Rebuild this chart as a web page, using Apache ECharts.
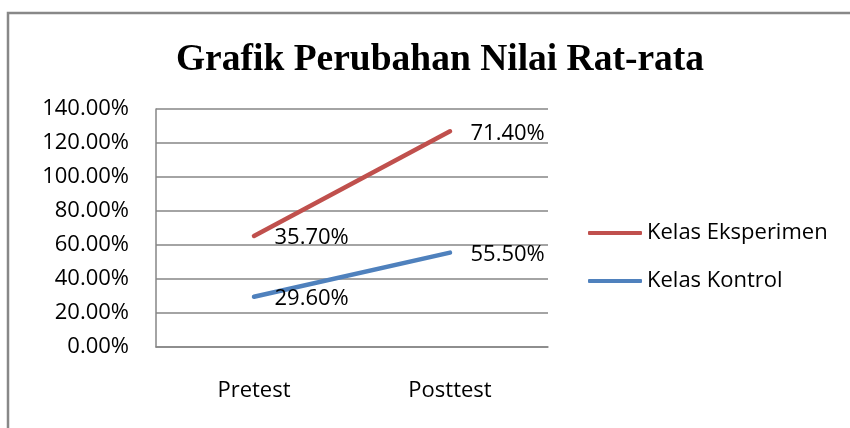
<!DOCTYPE html>
<html>
<head>
<meta charset="utf-8">
<title>Grafik Perubahan Nilai Rat-rata</title>
<script src="https://cdn.jsdelivr.net/npm/echarts@6/dist/echarts.min.js"></script>
<style>
  html, body { margin: 0; padding: 0; background: #fff; }
  #chart { width: 850px; height: 428px; }
</style>
</head>
<body>
<div id="chart"></div>
<script>
// data (stacked line chart, labels show own value)
var categories = ["Pretest", "Posttest"];
var kelasKontrol = [0.296, 0.555];
var kelasEksperimen = [0.357, 0.714];
var yTicks = { min: 0, max: 1.4, interval: 0.2 };

var font = "'Open Sans', 'Noto Sans', sans-serif";
var gray = "#868686";

function pct(v) {
  return (v * 100).toFixed(2) + "%";
}

var myChart = echarts.init(document.getElementById("chart"));

var labelCfg = {
  show: true,
  position: "right",
  distance: 20,
  offset: [0, 2],
  color: "#000",
  fontFamily: font,
  fontSize: 22,
  formatter: function (p) { return pct(p.value); }
};

var option = {
  animation: false,
  // outer chart border
  graphic: [{
    type: "rect",
    shape: { x: 8, y: 13, width: 900, height: 500 },
    style: { fill: "none", stroke: "#888", lineWidth: 2.5 },
    silent: true
  }],
  title: {
    text: "Grafik Perubahan Nilai Rat-rata",
    left: 435,
    textAlign: "center",
    top: 36,
    textStyle: {
      fontFamily: "'Liberation Serif', 'DejaVu Serif', serif",
      fontWeight: "bold",
      fontSize: 37.5,
      color: "#000"
    }
  },
  legend: {
    orient: "vertical",
    left: 583,
    top: 217,
    itemWidth: 54,
    itemHeight: 4,
    itemGap: 26,
    icon: "roundRect",
    data: ["Kelas Eksperimen", "Kelas Kontrol"],
    textStyle: { fontFamily: font, fontSize: 22, color: "#000" }
  },
  grid: { left: 156, top: 109, right: 302, bottom: 81, containLabel: false },
  xAxis: {
    type: "category",
    data: categories,
    boundaryGap: true,
    axisLine: { show: true, lineStyle: { color: gray, width: 1.5 } },
    axisTick: { show: false },
    axisLabel: { color: "#000", fontFamily: font, fontSize: 22, margin: 33 }
  },
  yAxis: {
    type: "value",
    min: yTicks.min,
    max: yTicks.max,
    interval: yTicks.interval,
    axisLine: { show: true, lineStyle: { color: gray, width: 1.5 } },
    axisTick: { show: false },
    axisLabel: { color: "#000", fontFamily: font, fontSize: 22, margin: 27, formatter: pct },
    splitLine: { lineStyle: { color: gray, width: 1.5 } }
  },
  series: [
    {
      name: "Kelas Kontrol",
      type: "line",
      stack: "total",
      data: kelasKontrol,
      symbol: "circle",
      symbolSize: 1,
      lineStyle: { color: "#4F81BD", width: 4.5, cap: "round" },
      itemStyle: { color: "#4F81BD" },
      label: labelCfg
    },
    {
      name: "Kelas Eksperimen",
      type: "line",
      stack: "total",
      data: kelasEksperimen,
      symbol: "circle",
      symbolSize: 1,
      lineStyle: { color: "#C0504D", width: 4.5, cap: "round" },
      itemStyle: { color: "#C0504D" },
      label: labelCfg
    }
  ]
};

myChart.setOption(option);
</script>
</body>
</html>
